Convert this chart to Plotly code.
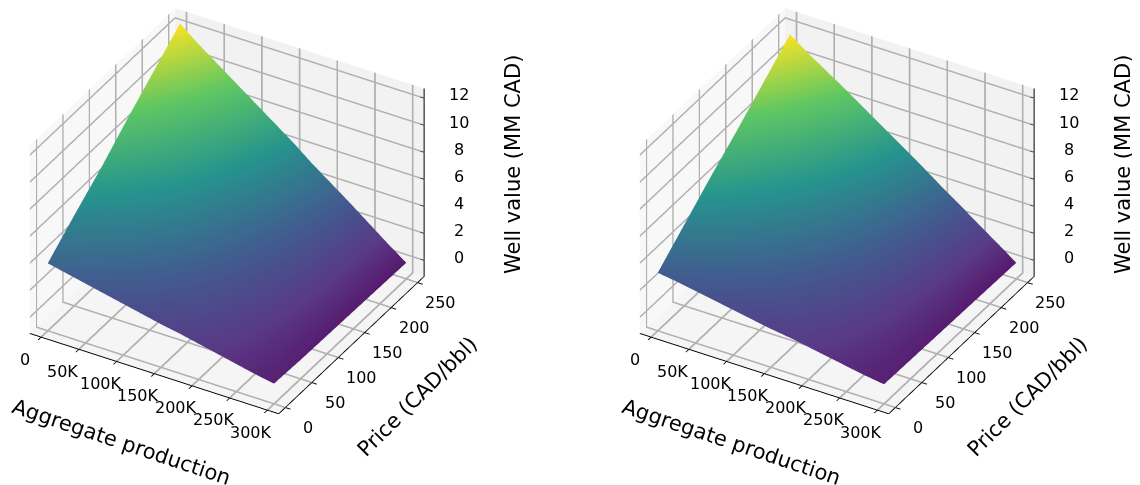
import plotly.graph_objects as go

price = [0, 50, 100, 150, 200, 250]
production = [0, 25000, 50000, 75000, 100000, 125000, 150000, 175000, 200000, 225000, 250000, 275000, 300000]
x_ticks = [0, 50000, 100000, 150000, 200000, 250000, 300000]
x_labels = ["0", "50K", "100K", "150K", "200K", "250K", "300K"]
y_ticks = [0, 50, 100, 150, 200, 250]
z_ticks = [0, 2, 4, 6, 8, 10, 12]

value_a = [
    [3.8, 3.5, 3.2, 2.9, 2.6, 2.3, 2.0, 1.75, 1.45, 1.15, 0.85, 0.55, 0.3],
    [5.5, 5.0, 4.6, 4.2, 3.7, 3.3, 2.85, 2.45, 2.0, 1.55, 1.1, 0.65, 0.2],
    [7.1, 6.6, 6.0, 5.5, 4.9, 4.3, 3.7, 3.1, 2.5, 1.95, 1.35, 0.75, 0.15],
    [8.9, 8.1, 7.4, 6.7, 6.0, 5.2, 4.5, 3.75, 3.05, 2.35, 1.6, 0.85, 0.1],
    [10.6, 9.7, 8.8, 7.9, 7.1, 6.2, 5.35, 4.45, 3.6, 2.7, 1.8, 0.9, 0.05],
    [12.3, 11.2, 10.2, 9.2, 8.2, 7.2, 6.2, 5.1, 4.1, 3.1, 2.05, 1.0, 0.0],
]
value_b = [
    [3.1, 2.9, 2.65, 2.4, 2.15, 1.9, 1.65, 1.45, 1.2, 0.95, 0.7, 0.45, 0.25],
    [4.8, 4.4, 4.05, 3.65, 3.25, 2.9, 2.5, 2.1, 1.75, 1.35, 0.95, 0.55, 0.2],
    [6.5, 6.0, 5.4, 4.9, 4.4, 3.85, 3.35, 2.8, 2.3, 1.75, 1.2, 0.65, 0.15],
    [8.1, 7.4, 6.8, 6.15, 5.5, 4.85, 4.2, 3.55, 2.85, 2.15, 1.45, 0.75, 0.1],
    [9.8, 9.0, 8.2, 7.4, 6.6, 5.85, 5.05, 4.2, 3.4, 2.55, 1.7, 0.85, 0.05],
    [11.5, 10.5, 9.6, 8.7, 7.75, 6.8, 5.85, 4.9, 3.9, 2.95, 1.95, 1.0, 0.0],
]

X_RANGE = [-15000, 315000]
Y_RANGE = [-12.5, 262.5]
Z_RANGE = [-1.2, 12.7]
TICK = dict(family="DejaVu Sans", size=16, color="black")
# viridis, lightened a little towards the dark end by the pale mesh of the original
COLORS = [[0.0, "#561a6e"], [0.1, "#593a86"], [0.25, "#43598f"], [0.5, "#26948e"],
          [0.75, "#60c964"], [1.0, "#fde725"]]


def axis(vals, rng, bg, native=True):
    return dict(
        title=dict(text=""), range=rng, tickmode="array", tickvals=vals,
        showgrid=True, gridcolor="#b0b0b0", gridwidth=4,
        showline=native, linecolor="black", linewidth=2,
        ticks="outside" if native else "", tickcolor="black", ticklen=6, tickwidth=2,
        showticklabels=False,
        showbackground=True, backgroundcolor=bg, zeroline=False, showspikes=False,
    )


def label(x, y, z, text, dx, dy):
    return dict(x=x, y=y, z=z, text=text, showarrow=False, xshift=dx, yshift=dy, font=TICK)


def scene(dom):
    notes = [label(v, Y_RANGE[0], Z_RANGE[0], t, -16, -22) for v, t in zip(x_ticks, x_labels)]
    notes += [label(X_RANGE[1], v, Z_RANGE[0], str(v), 23, -20) for v in y_ticks]
    notes += [label(X_RANGE[1], Y_RANGE[1], v, str(v), 35, 3) for v in z_ticks]
    return dict(
        domain=dict(x=dom[0], y=dom[1]),
        aspectmode="manual", aspectratio=dict(x=1.42, y=1.42, z=1.11),
        camera=dict(eye=dict(x=1.28, y=-2.19, z=1.68), center=dict(x=0, y=0, z=0),
                    up=dict(x=0, y=0, z=1), projection=dict(type="orthographic")),
        xaxis=axis(x_ticks, X_RANGE, "#f8f8f8"),
        yaxis=axis(y_ticks, Y_RANGE, "#f2f2f2"),
        zaxis=axis(z_ticks, Z_RANGE, "#f5f5f5", native=False),
        annotations=notes,
    )


LIGHT = dict(ambient=0.95, diffuse=0.1, specular=0, roughness=1, fresnel=0)
fig = go.Figure()
for name, vals in (("scene", value_a), ("scene2", value_b)):
    fig.add_trace(go.Surface(
        x=production, y=price, z=vals, colorscale=COLORS, showscale=False, scene=name, lighting=LIGHT))
    zx, zy, zz = [X_RANGE[1], X_RANGE[1]], [Y_RANGE[1], Y_RANGE[1]], [Z_RANGE[0], Z_RANGE[1]]
    for v in z_ticks:
        zx += [None, X_RANGE[1] - 5000, X_RANGE[1] + 9000]
        zy += [None, Y_RANGE[1], Y_RANGE[1]]
        zz += [None, v, v]
    fig.add_trace(go.Scatter3d(x=zx, y=zy, z=zz, mode="lines", line=dict(color="black", width=2),
                               scene=name, hoverinfo="skip"))

title_font = dict(family="DejaVu Sans", size=21, color="black")
notes = []
for dx in (0, 610):
    notes += [
        dict(text="Aggregate production", x=(113 + dx) / 1140, y=1 - 434 / 485, textangle=18.6),
        dict(text="Price (CAD/bbl)", x=(409 + dx) / 1140, y=1 - 389 / 485, textangle=-45),
        dict(text="Well value (MM CAD)", x=(505 + dx) / 1140, y=1 - 157 / 485, textangle=-90),
    ]
for n in notes:
    n.update(xref="paper", yref="paper", showarrow=False, font=title_font, xanchor="center", yanchor="middle")

TOP = 1.0
BOT = 1 - 406 / 485
fig.update_layout(
    width=1140, height=485, margin=dict(l=0, r=0, t=0, b=0), paper_bgcolor="white",
    showlegend=False, annotations=notes,
    scene=scene(([0, 438 / 1140], [BOT, TOP])), scene2=scene(([610 / 1140, 1048 / 1140], [BOT, TOP])),
)
fig.write_html("out.html")
